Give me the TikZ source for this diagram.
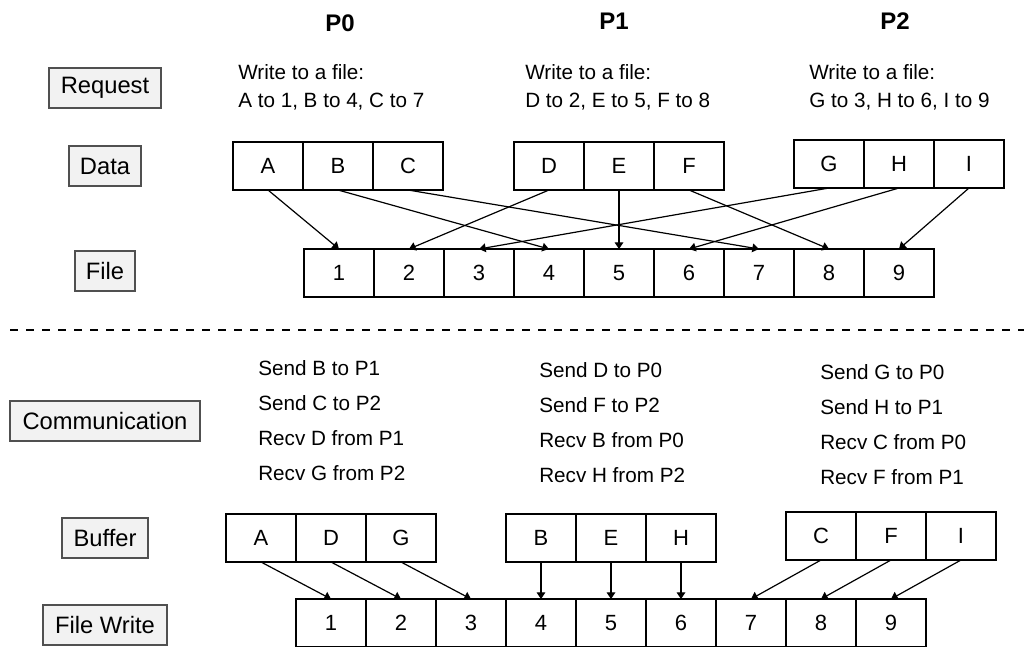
\documentclass[tikz,border=0pt]{standalone}
\usepackage{fontspec}
\setmainfont{Liberation Sans}
\usepackage{xcolor}
\definecolor{lblgray}{RGB}{242,242,242}
\definecolor{lbledge}{RGB}{80,80,80}
\usetikzlibrary{arrows.meta,positioning}

\begin{document}
\begin{tikzpicture}[x=0.75pt, y=-0.75pt,
  lbl/.style={rectangle, draw=lbledge, line width=1pt, fill=lblgray,
              minimum height=30pt, inner sep=0pt, outer sep=0pt,
              font=\fontsize{17.8}{20}\selectfont},
  cell/.style={rectangle, draw=black, line width=1.5pt,
               minimum width=52.5pt, minimum height=36pt, inner sep=0pt, outer sep=0pt,
               font=\fontsize{16.5}{19}\selectfont},
  proc/.style={font=\fontsize{18}{21}\selectfont\bfseries},
  note/.style={anchor=west, align=left, inner sep=0pt},
  arr/.style={-{Triangle[length=5pt, width=6.5pt]}, line width=0.9pt}
]
\useasboundingbox (0,0) rectangle (1024,646);

% Process headers
\node[proc] (p0) at (340,23) {P0};
\node[proc] (p1) at (614,21) {P1};
\node[proc] (p2) at (895,21) {P2};

% Row labels
\node[lbl, minimum width=84pt]   (request) at (105,88)  {Request};
\node[lbl, minimum width=54pt]   (data)    at (105,166) {Data};
\node[lbl, minimum width=45pt]   (file)    at (105,271) {File};
\node[lbl, minimum width=142.5pt] (comm)   at (105,421) {Communication};
\node[lbl, minimum width=64.5pt] (buffer)  at (105,538) {Buffer};
\node[lbl, minimum width=93pt]   (fwrite)  at (105,625) {File Write};

% Requests
\node[note, font=\fontsize{15.5}{21}\selectfont] (req0) at (238,87)
  {Write to a file:\\A to 1, B to 4, C to 7};
\node[note, font=\fontsize{15.5}{21}\selectfont] (req1) at (525,87)
  {Write to a file:\\D to 2, E to 5, F to 8};
\node[note, font=\fontsize{15.5}{21}\selectfont] (req2) at (809,87)
  {Write to a file:\\G to 3, H to 6, I to 9};

% Data of each process
\node[cell] (dA) at (268,166) {A};
\node[cell] (dB) at (338,166) {B};
\node[cell] (dC) at (408,166) {C};
\node[cell] (dD) at (549,166) {D};
\node[cell] (dE) at (619,166) {E};
\node[cell] (dF) at (689,166) {F};
\node[cell] (dG) at (829,164) {G};
\node[cell] (dH) at (899,164) {H};
\node[cell] (dI) at (969,164) {I};

% File blocks
\node[cell] (f1) at (339,273) {1};
\node[cell] (f2) at (409,273) {2};
\node[cell] (f3) at (479,273) {3};
\node[cell] (f4) at (549,273) {4};
\node[cell] (f5) at (619,273) {5};
\node[cell] (f6) at (689,273) {6};
\node[cell] (f7) at (759,273) {7};
\node[cell] (f8) at (829,273) {8};
\node[cell] (f9) at (899,273) {9};

% Independent writes
\draw[arr] (dA.south) -- (f1.north);
\draw[arr] (dB.south) -- (f4.north);
\draw[arr] (dC.south) -- (f7.north);
\draw[arr] (dD.south) -- (f2.north);
\draw[arr] (dE.south) -- (f5.north);
\draw[arr] (dF.south) -- (f8.north);
\draw[arr] (dG.south) -- (f3.north);
\draw[arr] (dH.south) -- (f6.north);
\draw[arr] (dI.south) -- (f9.north);

% Separator
\coordinate (sepl) at (10,330);
\coordinate (sepr) at (1024,330);
\draw[line width=1.5pt, dash pattern=on 6pt off 6pt] (sepl) -- (sepr);

% Exchange
\node[note, font=\fontsize{15.5}{26.2}\selectfont] (msg0) at (258,421)
  {Send B to P1\\Send C to P2\\Recv D from P1\\Recv G from P2};
\node[note, font=\fontsize{15.5}{26.2}\selectfont] (msg1) at (539,423)
  {Send D to P0\\Send F to P2\\Recv B from P0\\Recv H from P2};
\node[note, font=\fontsize{15.5}{26.2}\selectfont] (msg2) at (820,425)
  {Send G to P0\\Send H to P1\\Recv C from P0\\Recv F from P1};

% Buffers after exchange
\node[cell] (bA) at (261,538) {A};
\node[cell] (bD) at (331,538) {D};
\node[cell] (bG) at (401,538) {G};
\node[cell] (bB) at (541,538) {B};
\node[cell] (bE) at (611,538) {E};
\node[cell] (bH) at (681,538) {H};
\node[cell] (bC) at (821,536) {C};
\node[cell] (bF) at (891,536) {F};
\node[cell] (bI) at (961,536) {I};

% File blocks (collective write)
\node[cell] (w1) at (331,623) {1};
\node[cell] (w2) at (401,623) {2};
\node[cell] (w3) at (471,623) {3};
\node[cell] (w4) at (541,623) {4};
\node[cell] (w5) at (611,623) {5};
\node[cell] (w6) at (681,623) {6};
\node[cell] (w7) at (751,623) {7};
\node[cell] (w8) at (821,623) {8};
\node[cell] (w9) at (891,623) {9};

% Contiguous writes
\draw[arr] (bA.south) -- (w1.north);
\draw[arr] (bD.south) -- (w2.north);
\draw[arr] (bG.south) -- (w3.north);
\draw[arr] (bB.south) -- (w4.north);
\draw[arr] (bE.south) -- (w5.north);
\draw[arr] (bH.south) -- (w6.north);
\draw[arr] (bC.south) -- (w7.north);
\draw[arr] (bF.south) -- (w8.north);
\draw[arr] (bI.south) -- (w9.north);
\end{tikzpicture}
\end{document}
